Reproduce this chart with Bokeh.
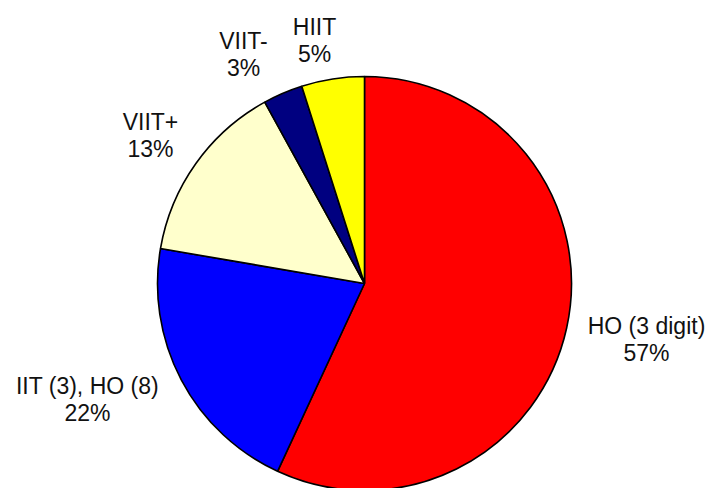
import math
from bokeh.plotting import figure
from bokeh.models import Range1d, ColumnDataSource
from bokeh.core.properties import value
from bokeh.embed import file_html
from bokeh.resources import INLINE

# Data (slice shares, clockwise from 12 o'clock)
categories = ["HO (3 digit)", "IIT (3), HO (8)", "VIIT+", "VIIT-", "HIIT"]
shares = [56.9, 20.8, 14.3, 3.1, 4.9]
pct_labels = ["57%", "22%", "13%", "3%", "5%"]
colors = ["#FF0000", "#0000FF", "#FFFFCC", "#000080", "#FFFF00"]

W, H = 709, 488
cx, cy, r = 364, 205, 207

# label centre positions (figure pixel coords, first line)
label_pos = [(646, 162.5), (87, 103), (150, 366.5), (243, 448), (314, 461.5)]
line_gap = 27

total = sum(shares)
starts, ends = [], []
acc = 0.0
for s in shares:
    a0 = math.pi / 2 - 2 * math.pi * acc / total
    acc += s
    a1 = math.pi / 2 - 2 * math.pi * acc / total
    starts.append(a0)
    ends.append(a1)

src = ColumnDataSource(dict(start=starts, end=ends, color=colors,
                            x=[cx] * len(shares), y=[cy] * len(shares)))

p = figure(width=W, height=H, output_backend="svg", toolbar_location=None,
           x_range=Range1d(0, W), y_range=Range1d(0, H), min_border=0)
p.axis.visible = False
p.grid.visible = False
p.outline_line_color = None
p.background_fill_color = "white"
p.border_fill_color = "white"

p.wedge(x="x", y="y", radius=r, start_angle="start", end_angle="end",
        direction="clock", fill_color="color", line_color="black",
        line_width=1.6, source=src)

lx = [pt[0] for pt in label_pos]
ly1 = [pt[1] for pt in label_pos]
ly2 = [pt[1] - line_gap for pt in label_pos]
p.text(x=lx, y=ly1, text=categories, text_font=value("Liberation Sans"),
       text_font_size="23px", text_align="center", text_baseline="middle",
       text_color="#111111")
p.text(x=lx, y=ly2, text=pct_labels, text_font=value("Liberation Sans"),
       text_font_size="23px", text_align="center", text_baseline="middle",
       text_color="#111111")

open("out.html", "w").write(file_html(p, INLINE))
